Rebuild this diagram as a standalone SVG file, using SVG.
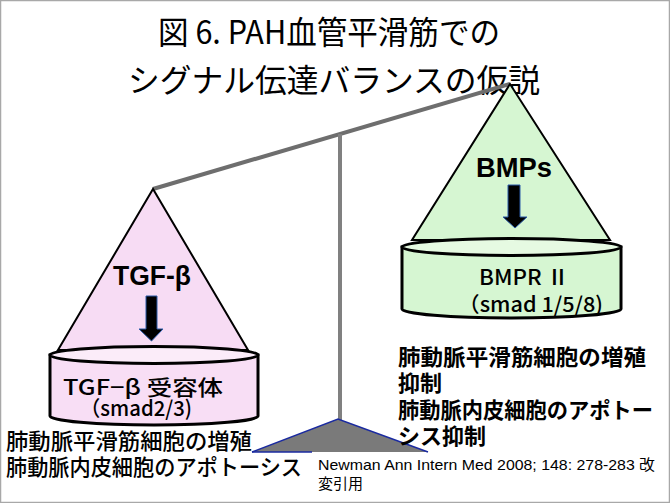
<svg xmlns="http://www.w3.org/2000/svg" width="670" height="503" viewBox="0 0 670 503">
<style>
.ttl{font-family:"Noto Sans CJK JP","Liberation Sans",sans-serif;font-size:32px;fill:#000}
.big{font-family:"Liberation Sans","Noto Sans CJK JP",sans-serif;font-size:28px;font-weight:bold;fill:#000;text-anchor:middle}
.lbl{font-family:"Noto Sans CJK JP","Liberation Sans",sans-serif;font-size:21px;font-weight:500;fill:#000}
.jp{font-family:"Noto Sans CJK JP",sans-serif;font-size:22px;fill:#000}
.jpb{font-family:"Noto Sans CJK JP",sans-serif;font-size:22px;font-weight:bold;fill:#000}
.cite{font-family:"Liberation Sans","Noto Sans CJK JP",sans-serif;font-size:15px;fill:#000}
.tri{stroke:#000;stroke-width:2;stroke-linejoin:miter}
.cyl{stroke:#000;stroke-width:3}
.arr{fill:#000;stroke:#2a5aa8;stroke-width:1}
</style>
<rect x="0.5" y="0.5" width="669" height="502" fill="#fff" stroke="#a8a8a8" stroke-width="1.5"/>
<g id="title">
<text class="ttl" x="329" y="44" text-anchor="middle" textLength="342" lengthAdjust="spacingAndGlyphs">図 6. PAH血管平滑筋での</text>
<text class="ttl" x="334" y="92" text-anchor="middle" textLength="412" lengthAdjust="spacingAndGlyphs">シグナル伝達バランスの仮説</text>
</g>
<g id="connectors">
<line x1="153" y1="189" x2="510" y2="84" stroke="#6e6e6e" stroke-width="4"/>
<line x1="340" y1="134" x2="340" y2="420" stroke="#808080" stroke-width="4"/>
</g>
<g id="fulcrum">
<polygon points="338,419 252,452 428,452" fill="#7a7a7a"/>
<polyline points="252,452 338,419 428,452" fill="none" stroke="#1a2aa0" stroke-width="1.5"/>
<line x1="252" y1="452" x2="312" y2="452" stroke="#1a2aa0" stroke-width="1.5"/>
</g>
<g id="tgf-cone">
<polygon class="tri" points="153,189 58,350 248,350" fill="#f7dcf4"/>
<text class="big" x="152" y="285" textLength="78" lengthAdjust="spacingAndGlyphs">TGF-β</text>
<polygon class="arr" points="146,296 157,296 157,329 163,329 151.5,341 139,329 146,329"/>
</g>
<g id="tgf-receptor">
<path class="cyl" d="M50,355 L50,416 A104,9 0 0 0 258,416 L258,355 Z" fill="#f8def5"/>
<ellipse class="cyl" cx="154" cy="355" rx="104" ry="8.5" fill="#fbecf9"/>
<text class="lbl" x="63" y="395" textLength="160" lengthAdjust="spacingAndGlyphs">TGF−β 受容体</text>
<text class="lbl" x="80" y="416" textLength="112" lengthAdjust="spacingAndGlyphs">（smad2/3)</text>
</g>
<g id="bmp-cone">
<polygon class="tri" points="510,84 412,240 610,240" fill="#d6f6d2"/>
<text class="big" x="514" y="177" textLength="76" lengthAdjust="spacingAndGlyphs">BMPs</text>
<polygon class="arr" points="508,185 520,185 520,217 527,217 515,228 503,217 508,217"/>
</g>
<g id="bmp-receptor">
<path class="cyl" d="M402,247 L402,309 A109.5,9 0 0 0 621,309 L621,247 Z" fill="#d6f6d2"/>
<ellipse class="cyl" cx="511.5" cy="247" rx="109.5" ry="8.5" fill="#e6fae2"/>
<text class="lbl" x="479" y="285" textLength="90" lengthAdjust="spacingAndGlyphs">BMPR Ⅱ</text>
<text class="lbl" x="458" y="312" textLength="145" lengthAdjust="spacingAndGlyphs">（smad 1/5/8)</text>
</g>
<g id="left-effect">
<text class="jp" x="6" y="449" textLength="246" lengthAdjust="spacingAndGlyphs" font-weight="500">肺動脈平滑筋細胞の増殖</text>
<text class="jp" x="6" y="475" textLength="296" lengthAdjust="spacingAndGlyphs" font-weight="500">肺動脈内皮細胞のアポトーシス</text>
</g>
<g id="right-effect">
<text class="jpb" x="398" y="365" textLength="248" lengthAdjust="spacingAndGlyphs">肺動脈平滑筋細胞の増殖</text>
<text class="jpb" x="398" y="391">抑制</text>
<text class="jpb" x="398" y="418" textLength="255" lengthAdjust="spacingAndGlyphs">肺動脈内皮細胞のアポトー</text>
<text class="jpb" x="398" y="444">シス抑制</text>
</g>
<g id="citation">
<text class="cite" x="318" y="470" textLength="337" lengthAdjust="spacingAndGlyphs">Newman Ann Intern Med 2008; 148: 278-283 改</text>
<text class="cite" x="318" y="489">変引用</text>
</g>
</svg>
